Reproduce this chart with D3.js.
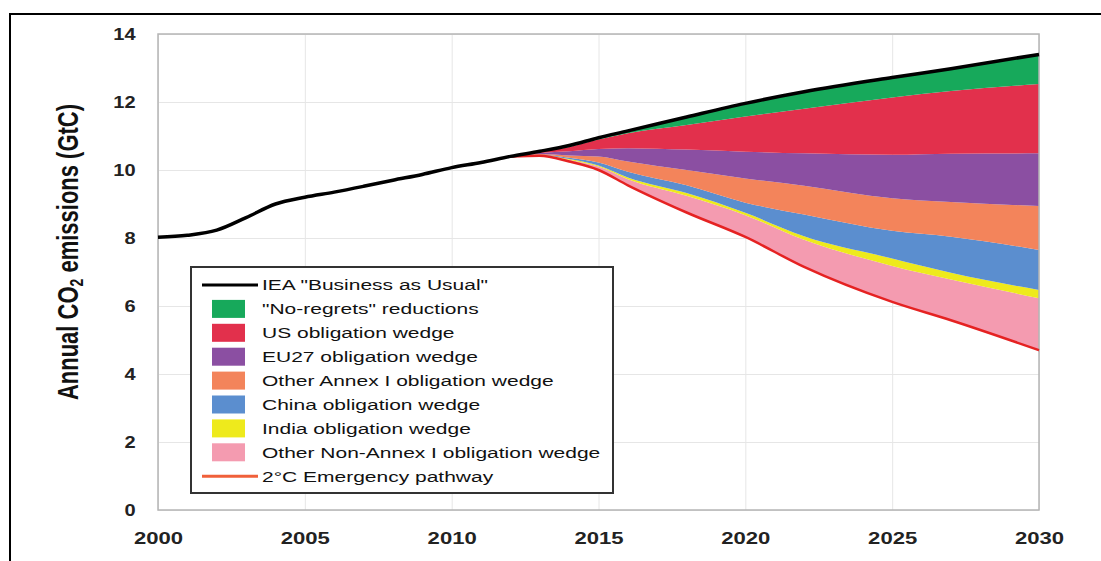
<!DOCTYPE html>
<html>
<head>
<meta charset="utf-8">
<script src="https://cdn.jsdelivr.net/npm/d3@7"></script>
<style>
  body { margin: 0; background: #fff; }
  svg { display: block; font-family: "Liberation Sans", Arial, sans-serif; }
</style>
</head>
<body>
<div id="chart"></div>
<script>
// Years (wedges start after 2012)
var years = [2000, 2001, 2002, 2003, 2004, 2005, 2006, 2007, 2008, 2009, 2010, 2011, 2012,
             2013, 2014, 2015, 2016, 2018, 2020, 2022, 2025, 2027, 2030];

// 2 degree emergency pathway (bottom of the stack), GtC
var pathway = [8.02, 8.08, 8.23, 8.60, 9.00, 9.20, 9.35, 9.52, 9.70, 9.87, 10.07, 10.22, 10.40,
               10.42, 10.25, 10.00, 9.55, 8.75, 8.03, 7.15, 6.12, 5.58, 4.70];

// wedge thicknesses, bottom to top
var zeros = [0, 0, 0, 0, 0, 0, 0, 0, 0, 0, 0, 0, 0];
var otherNonAnnex = zeros.concat([0.01, 0.05, 0.10, 0.18, 0.49, 0.64, 0.80, 1.06, 1.20, 1.53]);
var india         = zeros.concat([0.01, 0.02, 0.03, 0.05, 0.08, 0.07, 0.10, 0.22, 0.20, 0.24]);
var china         = zeros.concat([0.01, 0.04, 0.09, 0.17, 0.23, 0.30, 0.64, 0.81, 1.06, 1.18]);
var otherAnnex    = zeros.concat([0.02, 0.07, 0.18, 0.30, 0.45, 0.71, 0.85, 0.96, 1.02, 1.29]);
var eu27          = zeros.concat([0.03, 0.12, 0.22, 0.39, 0.60, 0.79, 0.95, 1.28, 1.42, 1.55]);
var us            = zeros.concat([0.04, 0.13, 0.28, 0.44, 0.72, 1.03, 1.31, 1.68, 1.84, 2.04]);
var noRegrets     = zeros.concat([0.01, 0.04, 0.05, 0.07, 0.24, 0.39, 0.50, 0.59, 0.66, 0.87]);

var yTicks = [0, 2, 4, 6, 8, 10, 12, 14];
var xTicks = [2000, 2005, 2010, 2015, 2020, 2025, 2030];

var legendLabels = ['IEA "Business as Usual"', '"No-regrets" reductions', 'US obligation wedge',
                    'EU27 obligation wedge', 'Other Annex I obligation wedge', 'China obligation wedge',
                    'India obligation wedge', 'Other Non-Annex I obligation wedge', '2\u00B0C Emergency pathway'];

var keys = ["pathway", "pink", "yellow", "blue", "orange", "purple", "red", "green"];
var colors = {
    pink: "#f49bb0", yellow: "#eeea1c", blue: "#5b8ecf", orange: "#f3845b",
    purple: "#8b4fa2", red: "#e2304c", green: "#17a95b"
};

// build the table for d3.stack
var table = years.map(function(yr, i) {
    return {
        year: yr, pathway: pathway[i], pink: otherNonAnnex[i], yellow: india[i], blue: china[i],
        orange: otherAnnex[i], purple: eu27[i], red: us[i], green: noRegrets[i]
    };
});

var width = 1101, height = 561;
var plot = { left: 158, right: 1039, top: 34, bottom: 510 };

var svg = d3.select("#chart").append("svg")
    .attr("width", width)
    .attr("height", height);

// outer frame
svg.append("rect")
    .attr("x", 10).attr("y", 14)
    .attr("width", 1200).attr("height", 700)
    .attr("fill", "none")
    .attr("stroke", "#000")
    .attr("stroke-width", 2);

var xScale = d3.scaleLinear().domain([2000, 2030]).range([plot.left, plot.right]);
var yScale = d3.scaleLinear().domain([0, 14]).range([plot.bottom, plot.top]);

// grid lines
svg.append("g")
    .attr("transform", "translate(0," + plot.bottom + ")")
    .call(d3.axisBottom(xScale).tickValues(xTicks).tickSize(-(plot.bottom - plot.top)).tickFormat(""))
    .call(function(g) { g.select(".domain").remove(); })
    .selectAll("line").attr("stroke", "#e6e6e6");

svg.append("g")
    .attr("transform", "translate(" + plot.left + ",0)")
    .call(d3.axisLeft(yScale).tickValues(yTicks).tickSize(-(plot.right - plot.left)).tickFormat(""))
    .call(function(g) { g.select(".domain").remove(); })
    .selectAll("line").attr("stroke", "#e6e6e6");

// stacked wedges
var series = d3.stack().keys(keys)(table);

var area = d3.area()
    .x(function(d) { return xScale(d.data.year); })
    .y0(function(d) { return yScale(d[0]); })
    .y1(function(d) { return yScale(d[1]); })
    .curve(d3.curveMonotoneX);

svg.append("g")
    .selectAll("path")
    .data(series.slice(1))
    .enter()
    .append("path")
    .attr("d", area)
    .attr("fill", function(d) { return colors[d.key]; });

// plot border
svg.append("rect")
    .attr("x", plot.left).attr("y", plot.top)
    .attr("width", plot.right - plot.left)
    .attr("height", plot.bottom - plot.top)
    .attr("fill", "none")
    .attr("stroke", "#b5b5b5")
    .attr("stroke-width", 1.5);

// 2C pathway line (only where it splits from BAU)
var pathLine = d3.line()
    .x(function(d) { return xScale(d.data.year); })
    .y(function(d) { return yScale(d[1]); })
    .curve(d3.curveMonotoneX);

svg.append("path")
    .datum(series[0].filter(function(d) { return d.data.year >= 2012; }))
    .attr("d", pathLine)
    .attr("fill", "none")
    .attr("stroke", "#e52222")
    .attr("stroke-width", 2.5);

// BAU line = top of the stack
svg.append("path")
    .datum(series[series.length - 1])
    .attr("d", pathLine)
    .attr("fill", "none")
    .attr("stroke", "#000")
    .attr("stroke-width", 3.5);

// axes labels
var xAxis = svg.append("g")
    .attr("transform", "translate(0," + plot.bottom + ")")
    .call(d3.axisBottom(xScale).tickValues(xTicks).tickSize(0).tickPadding(22).tickFormat(d3.format("d")));
xAxis.select(".domain").remove();
xAxis.selectAll("text")
    .attr("font-family", "Liberation Sans, Arial, sans-serif")
    .attr("font-size", "17px")
    .attr("font-weight", "bold")
    .attr("fill", "#222")
    .attr("transform", "scale(1.3,1)");

var yAxis = svg.append("g")
    .attr("transform", "translate(" + plot.left + ",0)")
    .call(d3.axisLeft(yScale).tickValues(yTicks).tickSize(0).tickPadding(18));
yAxis.select(".domain").remove();
yAxis.selectAll("text")
    .attr("font-family", "Liberation Sans, Arial, sans-serif")
    .attr("font-size", "16px")
    .attr("font-weight", "bold")
    .attr("fill", "#222")
    .attr("transform", "scale(1.25,1)");

// y axis title
var yTitle = svg.append("text")
    .attr("transform", "translate(68,252) scale(1.3,1) rotate(-90)")
    .attr("text-anchor", "middle")
    .attr("dominant-baseline", "central")
    .attr("font-size", "22px")
    .attr("font-weight", "bold")
    .attr("fill", "#111");
yTitle.append("tspan").text("Annual CO");
yTitle.append("tspan").attr("font-size", "14px").attr("dy", "6").text("2");
yTitle.append("tspan").attr("dy", "-6").text(" emissions (GtC)");

// legend
var legend = svg.append("g");
legend.append("rect")
    .attr("x", 191).attr("y", 267)
    .attr("width", 422).attr("height", 226)
    .attr("fill", "#fff")
    .attr("stroke", "#333")
    .attr("stroke-width", 2);

var legendKeys = ["bau", "green", "red", "purple", "orange", "blue", "yellow", "pink", "path"];
var rowY = function(i) { return 285 + i * 23.9; };

legendKeys.forEach(function(k, i) {
    if (k === "bau" || k === "path") {
        legend.append("line")
            .attr("x1", 202).attr("x2", 258)
            .attr("y1", rowY(i)).attr("y2", rowY(i))
            .attr("stroke", k === "bau" ? "#000" : "#f0603a")
            .attr("stroke-width", 3);
    } else {
        legend.append("rect")
            .attr("x", 212).attr("y", rowY(i) - 9)
            .attr("width", 33).attr("height", 18)
            .attr("fill", colors[k]);
    }
    legend.append("text")
        .attr("transform", "translate(262," + rowY(i) + ") scale(1.4,1)")
        .attr("dominant-baseline", "central")
        .attr("font-size", "15px")
        .attr("fill", "#111")
        .text(legendLabels[i]);
});
</script>
</body>
</html>
